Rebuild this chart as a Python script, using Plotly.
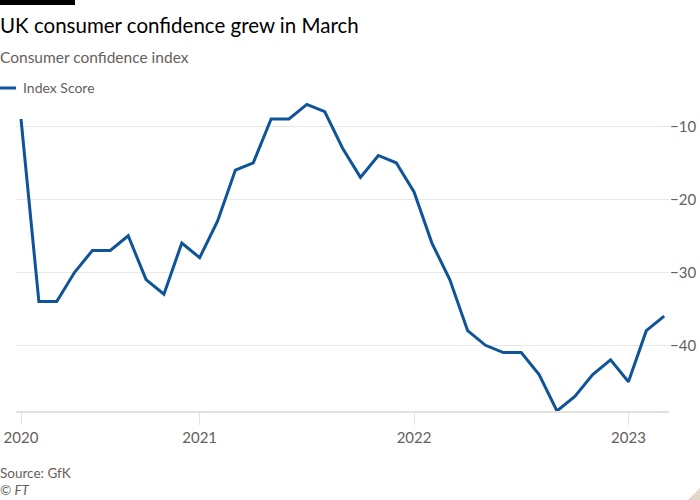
import plotly.graph_objects as go
import pandas as pd

# ---- data ----
months = [d.strftime("%Y-%m") for d in pd.date_range("2020-03-01", "2023-03-01", freq="MS")]
index_score = [-9, -34, -34, -30, -27, -27, -25, -31, -33, -26,
               -28, -23, -16, -15, -9, -9, -7, -8, -13, -17, -14, -15,
               -19, -26, -31, -38, -40, -41, -41, -44, -49, -47, -44, -42,
               -45, -38, -36]
x_tickvals = ["2020-03", "2021-01", "2022-01", "2023-01"]
x_ticktext = ["2020", "2021", "2022", "2023"]
y_tickvals = [-10, -20, -30, -40]

W, H = 700, 500
ML, MR, MT, MB = 16, 31, 100, 89
PW, PH = W - ML - MR, H - MT - MB

def px(x):
    return (x - ML) / PW

def py(y):
    return (H - MB - y) / PH

FONT = "Lato"
GREY = "#66605c"
BLUE = "#0f5499"
GRID = "#ece7e2"

fig = go.Figure()
fig.add_trace(go.Scatter(
    x=months, y=index_score, mode="lines", name="Index Score",
    line=dict(color=BLUE, width=3), showlegend=False,
))

fig.update_layout(
    width=W, height=H,
    margin=dict(l=ML, r=MR, t=MT, b=MB, pad=0),
    paper_bgcolor="white", plot_bgcolor="white",
    font=dict(family=FONT, color=GREY, size=14),
    xaxis=dict(
        type="category", range=[-0.28, 36.27], automargin=False,
        tickvals=x_tickvals, ticktext=x_ticktext,
        showgrid=False, showline=True, linecolor="#e6e0da", linewidth=2,
        ticks="outside", ticklen=12, tickcolor="#e6e0da", tickwidth=1,
        tickfont=dict(size=15, color=GREY, family=FONT),
        zeroline=False,
    ),
    yaxis=dict(
        side="right", range=[-49, -6.4], tickvals=y_tickvals, automargin=False,
        showgrid=True, gridcolor=GRID, gridwidth=1,
        zeroline=False, showline=False, ticks="",
        tickfont=dict(size=15, color=GREY, family=FONT),
    ),
    shapes=[
        dict(type="rect", xref="paper", yref="paper", layer="above",
             x0=px(0), x1=px(75), y0=py(5), y1=py(0),
             fillcolor="black", line=dict(width=0)),
        dict(type="line", xref="paper", yref="paper",
             x0=px(0), x1=px(16), y0=py(88), y1=py(88),
             line=dict(color=BLUE, width=3)),
        dict(type="path", xref="paper", yref="paper",
             path=f"M {px(688)} {py(500)} L {px(700)} {py(488)} L {px(700)} {py(500)} Z",
             fillcolor="#e3d6c6", line=dict(width=0)),
    ],
    annotations=[
        dict(text="UK consumer confidence grew in March", xref="paper", yref="paper",
             x=px(-2), y=py(25), xanchor="left", yanchor="middle", showarrow=False,
             font=dict(size=20.5, color="#000000", family=FONT)),
        dict(text="Consumer confidence index", xref="paper", yref="paper",
             x=px(-2), y=py(57), xanchor="left", yanchor="middle", showarrow=False,
             font=dict(size=15.5, color=GREY, family=FONT)),
        dict(text="Index Score", xref="paper", yref="paper",
             x=px(21), y=py(88), xanchor="left", yanchor="middle", showarrow=False,
             font=dict(size=14, color=GREY, family=FONT)),
        dict(text="Source: GfK", xref="paper", yref="paper",
             x=px(-2), y=py(473), xanchor="left", yanchor="middle", showarrow=False,
             font=dict(size=13.5, color=GREY, family=FONT)),
        dict(text="<i>© FT</i>", xref="paper", yref="paper",
             x=px(-2), y=py(490), xanchor="left", yanchor="middle", showarrow=False,
             font=dict(size=13.5, color=GREY, family=FONT)),
    ],
)

fig.write_html("out.html", config={"displayModeBar": False},
               post_script="document.body.style.margin='0';")
